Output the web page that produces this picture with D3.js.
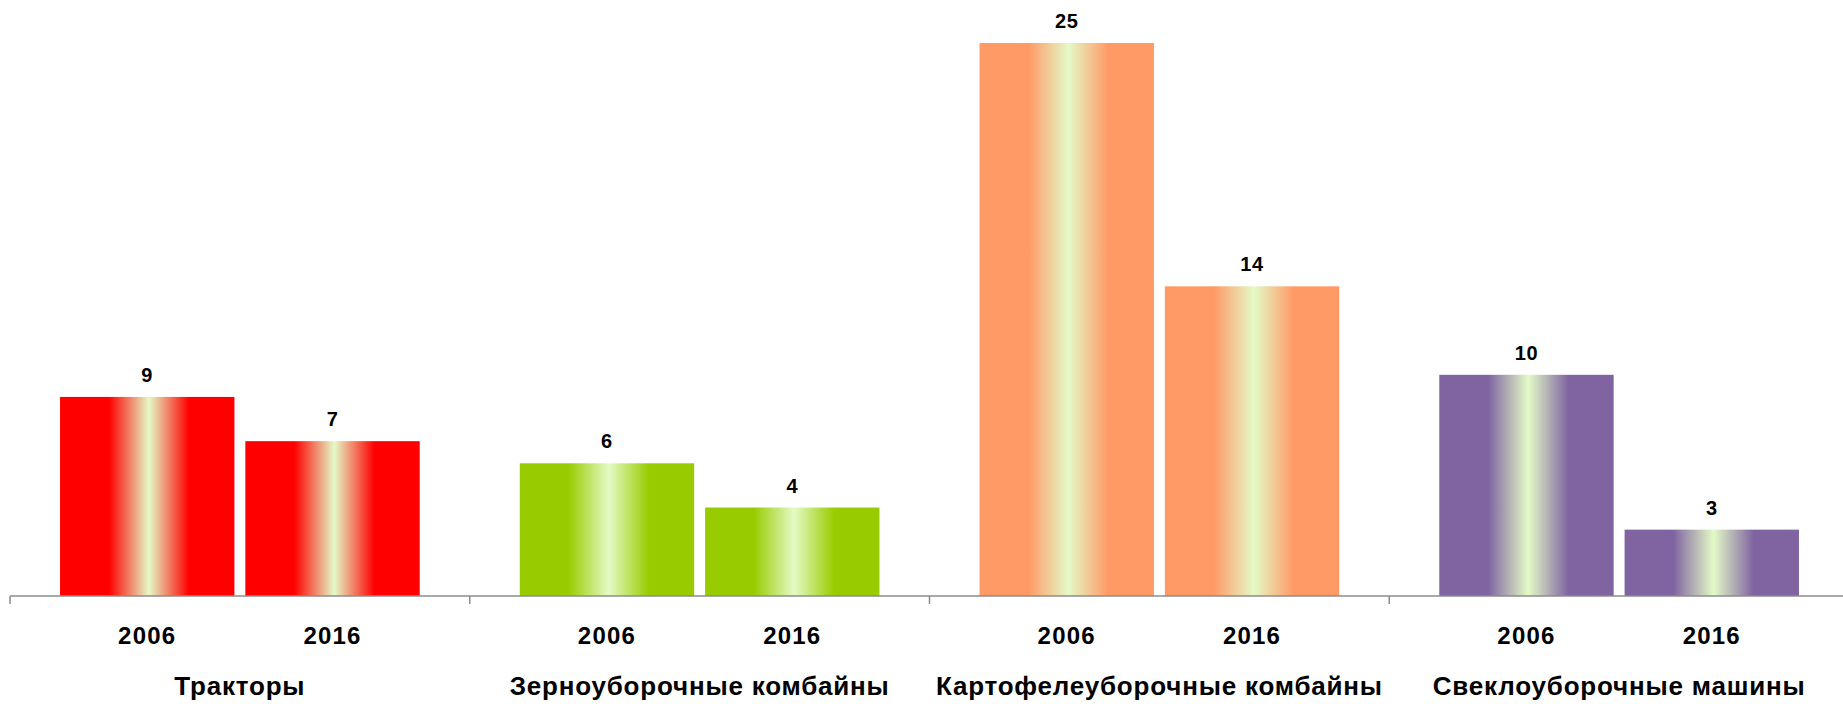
<!DOCTYPE html>
<html>
<head>
<meta charset="utf-8">
<script src="https://cdn.jsdelivr.net/npm/d3@7"></script>
<style>
  html, body { margin: 0; padding: 0; background: #fff; }
  svg { display: block; font-family: "Liberation Sans", Arial, sans-serif; }
</style>
</head>
<body>
<svg id="chart" width="1843" height="704"></svg>
<script>
// Machinery categories and the two survey years
const categories = ["Тракторы", "Зерноуборочные комбайны", "Картофелеуборочные комбайны", "Свеклоуборочные машины"];
const years = ["2006", "2016"];
const values2006 = [9, 6, 25, 10];
const values2016 = [7, 4, 14, 3];
const colors = ["#ff0000", "#99cc00", "#ff9966", "#8064a2"];
const highlight = "#e4fac6";

const svg = d3.select("#chart");
const W = 1843, H = 704;

const baseY = 596;
const axisLeft = 10;
const groupStep = 459.75;

const x0 = d3.scaleBand()
  .domain(categories)
  .range([axisLeft, axisLeft + groupStep * categories.length])
  .paddingInner(0).paddingOuter(0);

const x1 = d3.scaleBand()
  .domain(years)
  .range([0, x0.bandwidth()])
  .paddingInner(0.059)
  .paddingOuter(0.27);

const y = d3.scaleLinear()
  .domain([0, d3.max(values2006.concat(values2016))])
  .range([baseY, 43]);

const rows = categories.map((c, i) => ({
  category: c,
  color: colors[i],
  idx: i,
  bars: [
    { year: years[0], value: values2006[i] },
    { year: years[1], value: values2016[i] }
  ]
}));

// horizontal shine gradient per colour
const defs = svg.append("defs");
rows.forEach(r => {
  const g = defs.append("linearGradient")
    .attr("id", "shine" + r.idx)
    .attr("x1", "0%").attr("x2", "100%").attr("y1", "0%").attr("y2", "0%");
  [[0, r.color], [0.28, r.color], [0.51, highlight], [0.74, r.color], [1, r.color]]
    .forEach(([o, c]) => g.append("stop").attr("offset", o).attr("stop-color", c));
});

const groups = svg.selectAll("g.group")
  .data(rows)
  .join("g")
  .attr("class", "group")
  .attr("transform", d => `translate(${x0(d.category)},0)`);

groups.selectAll("rect")
  .data(d => d.bars.map(b => ({ ...b, idx: d.idx })))
  .join("rect")
  .attr("x", d => x1(d.year))
  .attr("width", x1.bandwidth())
  .attr("y", d => y(d.value))
  .attr("height", d => baseY - y(d.value))
  .attr("fill", d => `url(#shine${d.idx})`);

// value labels above bars
groups.selectAll("text.value")
  .data(d => d.bars)
  .join("text")
  .attr("class", "value")
  .attr("x", d => x1(d.year) + x1.bandwidth() / 2)
  .attr("y", d => y(d.value) - 15)
  .attr("text-anchor", "middle")
  .attr("font-size", 20)
  .attr("letter-spacing", 0.6)
  .attr("font-weight", "bold")
  .attr("fill", "#000")
  .text(d => d.value);

// year labels
groups.selectAll("text.year")
  .data(d => d.bars)
  .join("text")
  .attr("class", "year")
  .attr("x", d => x1(d.year) + x1.bandwidth() / 2)
  .attr("y", 644)
  .attr("text-anchor", "middle")
  .attr("font-size", 24)
  .attr("letter-spacing", 1.2)
  .attr("font-weight", "bold")
  .attr("fill", "#000")
  .text(d => d.year);

// category labels
groups.append("text")
  .attr("x", x0.bandwidth() / 2)
  .attr("y", 695)
  .attr("text-anchor", "middle")
  .attr("font-size", 26)
  .attr("letter-spacing", 0.8)
  .attr("font-weight", "bold")
  .attr("fill", "#000")
  .text(d => d.category);

// category axis line and group separators
const axis = svg.append("g").attr("stroke", "#8c8c8c").attr("stroke-width", 1.5);
axis.append("line")
  .attr("x1", axisLeft).attr("x2", W)
  .attr("y1", baseY).attr("y2", baseY);
const tickXs = categories.map(c => x0(c)).concat([x0(categories[categories.length - 1]) + x0.bandwidth()]);
axis.selectAll("line.tick")
  .data(tickXs)
  .join("line")
  .attr("class", "tick")
  .attr("x1", d => d).attr("x2", d => d)
  .attr("y1", baseY).attr("y2", baseY + 8);
</script>
</body>
</html>
